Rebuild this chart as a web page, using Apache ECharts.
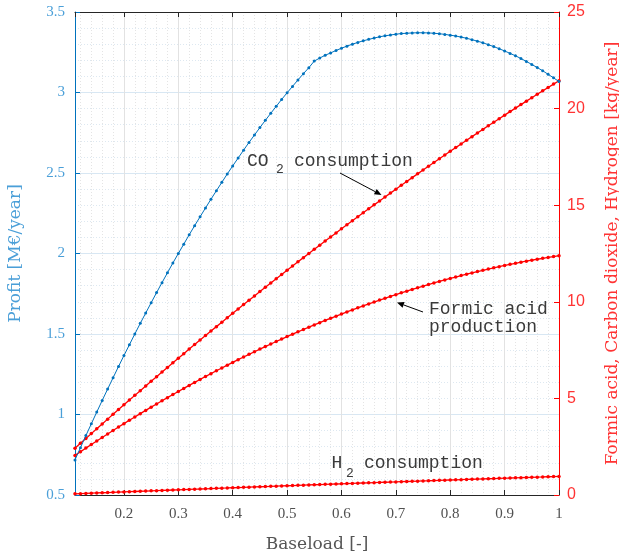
<!DOCTYPE html>
<html>
<head>
<meta charset="utf-8">
<script src="https://cdn.jsdelivr.net/npm/echarts@6/dist/echarts.min.js"></script>
<style>
  html, body { margin: 0; padding: 0; background: #fff; }
  #chart { width: 619px; height: 560px; }
</style>
</head>
<body>
<div id="chart"></div>
<script>
// Baseload (fraction of nominal capacity)
const baseload = [
  0.11,0.12,0.13,0.14,0.15,0.16,0.17,0.18,0.19,0.20,
  0.21,0.22,0.23,0.24,0.25,0.26,0.27,0.28,0.29,0.30,
  0.31,0.32,0.33,0.34,0.35,0.36,0.37,0.38,0.39,0.40,
  0.41,0.42,0.43,0.44,0.45,0.46,0.47,0.48,0.49,0.50,
  0.51,0.52,0.53,0.54,0.55,0.56,0.57,0.58,0.59,0.60,
  0.61,0.62,0.63,0.64,0.65,0.66,0.67,0.68,0.69,0.70,
  0.71,0.72,0.73,0.74,0.75,0.76,0.77,0.78,0.79,0.80,
  0.81,0.82,0.83,0.84,0.85,0.86,0.87,0.88,0.89,0.90,
  0.91,0.92,0.93,0.94,0.95,0.96,0.97,0.98,0.99,1.00
];

// Profit [M€/year]
const profit = [
  0.718,0.794,0.869,0.942,1.015,1.087,1.158,1.228,1.298,1.366,
  1.433,1.500,1.566,1.630,1.694,1.757,1.819,1.880,1.941,2.000,
  2.058,2.116,2.173,2.228,2.283,2.337,2.390,2.442,2.494,2.544,
  2.593,2.642,2.690,2.736,2.782,2.827,2.871,2.914,2.957,2.998,
  3.038,3.078,3.117,3.154,3.195,3.214,3.231,3.246,3.261,3.275,
  3.288,3.300,3.311,3.321,3.330,3.338,3.346,3.352,3.357,3.362,
  3.366,3.368,3.370,3.371,3.371,3.370,3.368,3.365,3.361,3.356,
  3.351,3.344,3.337,3.328,3.319,3.309,3.297,3.285,3.272,3.258,
  3.243,3.228,3.211,3.193,3.174,3.155,3.135,3.113,3.091,3.068
];

// CO2 consumption [kg/year]
const co2 = [
  2.420,2.674,2.926,3.177,3.428,3.678,3.927,4.175,4.421,4.668,
  4.913,5.157,5.401,5.643,5.885,6.126,6.366,6.605,6.842,7.080,
  7.316,7.552,7.786,8.019,8.252,8.484,8.715,8.945,9.173,9.402,
  9.629,9.856,10.081,10.305,10.529,10.752,10.974,11.195,11.414,11.634,
  11.852,12.070,12.286,12.501,12.716,12.930,13.143,13.355,13.565,13.776,
  13.985,14.194,14.401,14.607,14.813,15.018,15.222,15.425,15.626,15.828,
  16.028,16.228,16.426,16.623,16.820,17.016,17.211,17.405,17.597,17.790,
  17.981,18.172,18.361,18.549,18.737,18.924,19.110,19.295,19.478,19.662,
  19.844,20.026,20.206,20.385,20.564,20.742,20.919,21.095,21.269,21.444
];

// Formic acid production [kg/year]
const formic = [
  2.050,2.239,2.427,2.613,2.797,2.979,3.160,3.339,3.517,3.693,
  3.867,4.040,4.211,4.380,4.547,4.713,4.878,5.040,5.201,5.360,
  5.518,5.674,5.828,5.981,6.132,6.281,6.429,6.575,6.719,6.862,
  7.003,7.142,7.280,7.416,7.551,7.683,7.814,7.944,8.072,8.198,
  8.322,8.445,8.566,8.685,8.803,8.919,9.034,9.147,9.258,9.367,
  9.475,9.581,9.686,9.789,9.890,9.989,10.087,10.183,10.278,10.371,
  10.462,10.552,10.640,10.726,10.810,10.893,10.975,11.054,11.132,11.208,
  11.283,11.356,11.427,11.497,11.565,11.631,11.696,11.759,11.820,11.880,
  11.938,11.994,12.049,12.102,12.154,12.203,12.251,12.298,12.343,12.386
];

// H2 consumption [kg/year]
const h2 = [
  0.060,0.071,0.082,0.094,0.105,0.116,0.127,0.138,0.149,0.160,
  0.171,0.182,0.193,0.204,0.214,0.225,0.236,0.247,0.258,0.268,
  0.279,0.290,0.301,0.311,0.322,0.333,0.343,0.354,0.364,0.375,
  0.385,0.396,0.406,0.417,0.427,0.437,0.448,0.458,0.468,0.479,
  0.489,0.499,0.509,0.519,0.530,0.540,0.550,0.560,0.570,0.580,
  0.590,0.600,0.610,0.620,0.630,0.640,0.650,0.659,0.669,0.679,
  0.689,0.699,0.708,0.718,0.728,0.737,0.747,0.757,0.766,0.776,
  0.785,0.795,0.804,0.814,0.823,0.833,0.842,0.851,0.861,0.870,
  0.879,0.889,0.898,0.907,0.916,0.925,0.934,0.944,0.953,0.962
];

const BLUE = '#0072BD';
const BLUE_TEXT = '#4a9fd8';
const RED = '#ff0000';
const RED_TEXT = '#ff3333';
const DARK = '#262626';
const SERIF = '"Liberation Serif", "DejaVu Serif", serif';
const WIDE_SERIF = '"DejaVu Serif", "Liberation Serif", serif';
const MONO = '"Liberation Mono", "DejaVu Sans Mono", monospace';

const pairs = (ys) => baseload.map((x, i) => [x, ys[i]]);

function lineSeries(name, ys, axis, color, width, size) {
  return {
    name, type: 'line', yAxisIndex: axis, data: pairs(ys),
    symbol: 'circle', symbolSize: size, showSymbol: true, showAllSymbol: true,
    itemStyle: { color }, lineStyle: { color, width },
    silent: true, animation: false, z: axis === 0 ? 4 : 3
  };
}

// arrow: shaft from (x1,y1) to (x2,y2), filled head at (x2,y2)
function arrow(x1, y1, x2, y2) {
  const dx = x2 - x1, dy = y2 - y1, len = Math.hypot(dx, dy);
  const ux = dx / len, uy = dy / len, hl = 7, hw = 3;
  const bx = x2 - ux * hl, by = y2 - uy * hl;
  return [
    { type: 'line', shape: { x1, y1, x2: bx, y2: by }, style: { stroke: '#000', lineWidth: 1 }, z: 10 },
    { type: 'polygon', shape: { points: [[x2, y2], [bx - uy * hw, by + ux * hw], [bx + uy * hw, by - ux * hw]] },
      style: { fill: '#000' }, z: 10 }
  ];
}

function label(text, x, y, size) {
  return { type: 'text', x, y, z: 10,
    style: { text, font: size + 'px ' + MONO, fill: '#3a3a3a', verticalAlign: 'middle', align: 'left' } };
}

const xCommon = {
  type: 'value', min: 0.11, max: 1, splitNumber: 9,
  axisLine: { show: true, lineStyle: { color: DARK, width: 1 } },
  axisTick: { show: true, inside: true, length: 5, lineStyle: { color: DARK } }
};

const chart = echarts.init(document.getElementById('chart'), null, { renderer: 'canvas' });
chart.setOption({
  animation: false,
  backgroundColor: '#fff',
  grid: { left: 75, right: 60, top: 12, bottom: 65, containLabel: false, outerBoundsMode: 'none' },
  xAxis: [
    Object.assign({}, xCommon, {
      position: 'bottom',
      axisLabel: { showMinLabel: false, color: '#505050', fontFamily: SERIF, fontSize: 15, margin: 12 },
      splitLine: { show: true, lineStyle: { color: '#e2e2e2', width: 1 } },
      minorTick: { show: false, splitNumber: 5 },
      minorSplitLine: { show: true, lineStyle: { color: '#e4e4e4', type: [1, 2], width: 1 } },
      name: 'Baseload [-]', nameLocation: 'middle', nameGap: 41,
      nameTextStyle: { color: '#555555', fontFamily: WIDE_SERIF, fontSize: 17 }
    }),
    Object.assign({}, xCommon, {
      position: 'top', axisLabel: { show: false }, splitLine: { show: false }
    })
  ],
  yAxis: [
    {
      type: 'value', position: 'left', min: 0.5, max: 3.5, interval: 0.5,
      axisLine: { show: true, lineStyle: { color: BLUE, width: 1 } },
      axisTick: { show: true, inside: true, length: 5, lineStyle: { color: BLUE } },
      axisLabel: { color: BLUE_TEXT, fontFamily: SERIF, fontSize: 15, margin: 10 },
      splitLine: { show: true, lineStyle: { color: '#d8e7f3', width: 1 } },
      minorTick: { show: false, splitNumber: 5 },
      minorSplitLine: { show: true, lineStyle: { color: '#dde8f1', type: [1, 2], width: 1 } },
      name: 'Profit [M€/year]', nameLocation: 'middle', nameGap: 51, nameRotate: 90,
      nameTextStyle: { color: BLUE_TEXT, fontFamily: WIDE_SERIF, fontSize: 17 }
    },
    {
      type: 'value', position: 'right', min: 0, max: 25, interval: 5,
      axisLine: { show: true, lineStyle: { color: RED, width: 1 } },
      axisTick: { show: true, inside: true, length: 5, lineStyle: { color: RED } },
      axisLabel: { color: RED_TEXT, fontFamily: '"Liberation Sans", Arial, sans-serif', fontSize: 16, margin: 8 },
      splitLine: { show: false },
      name: 'Formic acid, Carbon dioxide, Hydrogen [kg/year]', nameLocation: 'middle', nameGap: 45, nameRotate: 90,
      nameTextStyle: { color: RED_TEXT, fontFamily: WIDE_SERIF, fontSize: 17 }
    }
  ],
  series: [
    lineSeries('Profit', profit, 0, BLUE, 1, 3),
    lineSeries('CO2 consumption', co2, 1, RED, 1.3, 3.5),
    lineSeries('Formic acid production', formic, 1, RED, 1.3, 3.5),
    lineSeries('H2 consumption', h2, 1, RED, 1.3, 3.5)
  ],
  graphic: [
    label('CO', 247, 161, 18),
    label('2', 276, 169.5, 13),
    label('consumption', 294, 161, 18),
    ...arrow(340, 173, 381.5, 195),
    label('Formic acid', 429, 309, 18),
    label('production', 429, 327, 18),
    ...arrow(423, 312, 397, 302.5),
    label('H', 331.5, 463.5, 18),
    label('2', 346, 474, 13),
    label('consumption', 364, 463.5, 18)
  ]
});
</script>
</body>
</html>
